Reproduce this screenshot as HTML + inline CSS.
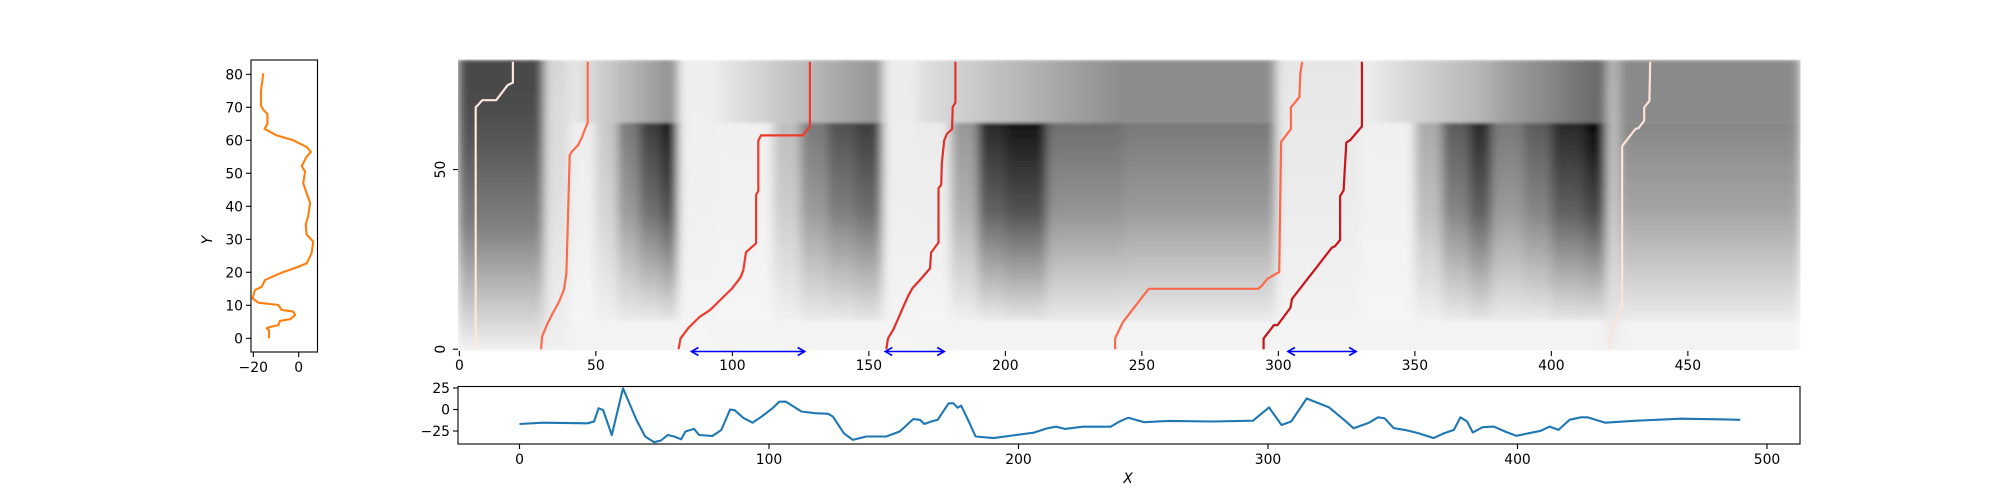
<!DOCTYPE html>
<html><head><meta charset="utf-8"><style>
html,body{margin:0;padding:0;background:#fff;}
svg{display:block;font-family:"DejaVu Sans","Liberation Sans",sans-serif;}
</style></head><body>
<svg id="fig" width="2000" height="500" viewBox="0 0 2000 500" xmlns="http://www.w3.org/2000/svg">
<defs id="defs">
<filter id="soft" x="0" y="0" width="1" height="1" filterUnits="objectBoundingBox"><feGaussianBlur stdDeviation="5 1.5" edgeMode="duplicate"/></filter>
</defs>
<g id="heat" filter="url(#soft)"></g>
<g id="paths"></g>
<g id="arrows"></g>
<g id="axes"></g>
<g id="side"></g>
<g id="bottom"></g>
</svg>
<script>
// ---------- data ----------
// heatmap regions: x0,x1,y0,y1,gray1,gray2,dir(0 vertical top->bottom, 1 horizontal left->right)
const heatRegions = [
[-0.5,31,62,80.5,72,80,0],[-0.5,31,-0.5,62,80,242,0],
[31,40,-0.5,80.5,215,240,0],
[40,80,63,80.5,235,140,1],
[40,50,8,63,238,245,0],[50,58,8,63,200,240,0],[58,66,8,63,120,235,0],[66,74,8,63,60,235,0],[74,80,8,63,20,230,0],
[80,94,-0.5,80.5,238,245,0],
[94,155,63,80.5,235,145,1],
[94,115,8,63,240,245,0],[115,125,8,63,190,240,0],[125,135,8,63,120,235,0],[135,145,8,63,80,235,0],[145,155,8,63,60,230,0],
[155,168,-0.5,80.5,235,245,0],
[168,243,63,80.5,225,140,1],
[168,180,8,63,235,245,0],[180,190,8,63,150,240,0],[190,200,8,63,40,235,0],[200,215,8,63,20,230,0],[215,243,8,63,110,235,0],
[243,299,63,80.5,140,140,0],[243,299,8,63,120,235,0],
[299,330,-0.5,80.5,230,245,0],
[330,378,63,80.5,240,175,1],
[330,350,8,63,240,245,0],[350,360,8,63,170,240,0],[360,370,8,63,90,235,0],[370,378,8,63,40,230,0],
[378,420,63,80.5,170,100,1],
[378,390,8,63,120,235,0],[390,400,8,63,90,235,0],[400,412,8,63,40,230,0],[412,420,8,63,10,230,0],
[420,425,-0.5,80.5,180,240,0],
[425,491,63,80.5,138,138,0],[425,491,8,63,135,235,0]
];
const pathColors = ["#fde6dc","#fc6c4b","#ee3a2c","#e0302a","#fb6a4a","#c8151b","#fee3d6"];
const path1X=[6,6,8.4,13.5,17.7,19.6,19.6];
const path1Y=[0,67.3,69.3,69.3,73.5,74.2,80];
const path2X=[29.9,30.3,32.2,34.1,36.4,38.3,39.2,40.4,41.1,43.4,44.8,46.2,47,47];
const path2Y=[0,3.5,7,9.9,13,16.5,21.1,54,54.9,56.7,58.8,61.6,63,80];
const path3X=[80.3,81,84,88,92,96,100,103,104,105,108,108.7,108.7,109.5,109.5,110.5,125.8,128.4,128.4];
const path3Y=[0,3,6,9,11,14,17,20,22,27,29,29.5,43,44,58,59.5,59.5,62,80];
const path4X=[156.4,157,159,161,163,164.5,166,169.3,172.4,172.8,175.5,175.5,176.5,176.7,177.6,178.6,180.5,180.7,181.7,181.7];
const path4Y=[0,3,5.5,9,12.5,15,17,19.8,22.5,26.9,29.7,44.8,45.7,51.7,58.1,59.9,61.3,67.4,68.6,80];
const path5X=[240.2,240.2,243.1,252.5,292.6,294,296,300.3,301,304.6,304.6,307.7,308,308.7];
const path5Y=[0,3,7.6,16.8,16.8,17.7,19.6,21.5,57.7,61.3,67.3,70.2,76.4,80];
const path6X=[294.6,294.6,298.4,299.7,304.4,305,310.7,313.7,319.5,320.8,322.6,322.6,323.9,324.9,326.3,330.6,330.6];
const path6Y=[0,3,6.7,6.7,11.5,14,19.6,22.5,28.2,28.7,30.4,42.6,44.2,57.5,58.2,62,80];
const path7X=[421.3,421.3,422.5,423.5,425.9,425.9,430.8,432,434,434,435.9,436.2];
const path7Y=[0,3,5,8,12,56.5,61.3,61.6,63.6,67.3,69.1,80];
const arrowStart=[85,156,303.5];
const arrowEnd=[126.5,177.6,328.5];
const heatXTicks=[0,50,100,150,200,250,300,350,400,450];
const heatYTicks=[0,50];
// side profile (orange)
const profileY=[80.3,75,70.5,69.2,68,65,63.5,61.5,60,58,56.5,55,52.2,50.5,47,44,41,37,34.5,31.5,29.3,25.8,22.7,21.5,19.7,17.7,15.6,14.6,12.1,10.8,10.1,8.6,8.1,7.1,5.8,5.3,4,3.3,3,2.5,0];
const profileX=[-15.6,-16.6,-16.6,-15.6,-13.8,-13.8,-15,-9.7,-2.4,3.5,5.4,3.5,1.3,2.8,2,3.5,5,4.2,3.1,3.5,6.4,5.7,3.5,-0.9,-8.2,-14.8,-16.3,-19.3,-20.3,-17.8,-9,-7.5,-2.4,-1.6,-3.8,-8.2,-9,-13.4,-14.1,-13.1,-13.1];
const sideXTicks=[-20,0];
const sideYTicks=[0,10,20,30,40,50,60,70,80];
// bottom signal (blue)
const sigX=[0,9.3,27.2,29.9,31.7,33.5,37,41.5,46.9,50.4,54,56.7,59.4,62,64.8,66.5,70,72,77.3,80.9,84.4,86.2,89.8,93.4,97,101.4,104.1,106.8,113,118.4,123.8,125.6,130,133.6,139,147,152.4,157.8,160.5,162.3,165,167.6,172,173.9,175.6,177,180.1,182.8,190,199,206,211.4,215,218.6,225.8,233,237,240.5,244,250.4,260.2,278,294,300.4,305.4,309.3,315.5,324.5,329.8,334.3,340.5,344.1,346.8,350.4,354.8,360.2,366.4,370,374.5,377.1,379.8,382.1,386,390.5,395,399.5,409.3,412.9,416.4,420.9,425.4,428,435.2,447.7,465.5,483.4,489.3];
const sigY=[-16.9,-15.3,-16,-14,1.4,-0.6,-29.7,24.6,-12.2,-31.4,-38,-36,-29.7,-31.4,-34.6,-25.6,-22.5,-29.7,-30.8,-23.8,0,-0.8,-10,-15.3,-8.3,1.4,9.1,9.1,-2.3,-4.3,-5,-8.3,-27.7,-35.4,-31.4,-31.4,-25.6,-11.2,-12,-16.9,-14,-12,7.2,7.2,2.1,4.5,-14,-31.4,-33.3,-29.7,-27,-22,-20,-22.6,-20,-20,-20,-14,-9.5,-14.8,-13.3,-14,-13,2.5,-18,-14,12.8,2.5,-10.3,-21.8,-15.3,-9.1,-10.3,-21.8,-23.7,-27.5,-33.3,-28.3,-23.7,-9.1,-14,-26.8,-20.6,-19.9,-25.6,-30.6,-24.8,-19.9,-23.7,-12,-9.1,-9.1,-15.3,-13,-10.7,-11.5,-12];
const botXTicks=[0,100,200,300,400,500];
const botYTicks=[25,0,-25];

// ---------- scales ----------
const hx=d=>458+(d+0.5)*2.730, hy=d=>351-(d+0.5)*3.593;
const bx=d=>519.5+d*2.495, by=v=>409.5-v*0.86;
const lx=v=>298.7+v*2.27, ly=v=>338.3-v*3.3;
const NS="http://www.w3.org/2000/svg";
function mk(tag,attrs,parent){const e=document.createElementNS(NS,tag);for(const k in attrs)e.setAttribute(k,attrs[k]);parent.appendChild(e);return e;}
const g=v=>`rgb(${Math.round(v)},${Math.round(v)},${Math.round(v)})`;
const defs=document.getElementById('defs');

// ---------- heatmap ----------
const heat=document.getElementById('heat');
const bg=mk('rect',{x:hx(-0.5),y:hy(80.5),width:hx(491)-hx(-0.5),height:hy(-0.5)-hy(80.5),fill:'#f3f3f3'},heat);


heatRegions.forEach((r,i)=>{
  const [x0,x1,y0,y1,c1,c2,dir]=r;
  const lg=mk('linearGradient',{id:'hg'+i,x1:0,y1:0,x2:dir?1:0,y2:dir?0:1},defs);
  mk('stop',{offset:0,'stop-color':g(c1)},lg);
  if(!dir) mk('stop',{offset:0.45,'stop-color':g(c1+(c2-c1)*0.3)},lg);
  mk('stop',{offset:1,'stop-color':g(c2)},lg);
  const re=mk('rect',{x:hx(x0),y:hy(y1),width:hx(x1)-hx(x0)+0.4,height:hy(y0)-hy(y1),fill:`url(#hg${i})`},heat);
  
  
});
const pathsG=document.getElementById('paths');
[[path1X,path1Y],[path2X,path2Y],[path3X,path3Y],[path4X,path4Y],[path5X,path5Y],[path6X,path6Y],[path7X,path7Y]].forEach((p,i)=>{
  const d=p[0].map((x,j)=>(j?'L':'M')+hx(x).toFixed(1)+','+hy(p[1][j]).toFixed(1)).join(' ');
  const pe=mk('path',{d,fill:'none',stroke:pathColors[i],'stroke-width':2.2,'stroke-linejoin':'round'},pathsG);
  
  
});
const arrG=document.getElementById('arrows');
arrowStart.forEach((s,i)=>{
  const a=hx(s),b=hx(arrowEnd[i]),y=351.5;
  const ag=mk('g',{stroke:'#0000ff','stroke-width':1.6,fill:'none'},arrG);
  
  
  mk('line',{x1:a,y1:y,x2:b,y2:y},ag);
  mk('path',{d:`M${a+7},${y-4} L${a},${y} L${a+7},${y+4}`},ag);
  mk('path',{d:`M${b-7},${y-4} L${b},${y} L${b-7},${y+4}`},ag);
});

// ---------- axes helpers ----------
const axes=document.getElementById('axes');
function text(str,x,y,anchor,parent,name,extra){
  const t=mk('text',Object.assign({x,y,'text-anchor':anchor,'font-size':13.9,fill:'#000'},extra||{}),parent);
  t.textContent=str;
  
  
  return t;
}
const fmt=v=>v<0?'\u2212'+Math.abs(v):String(v);
heatXTicks.forEach(t=>{
  const x=hx(t);
  mk('line',{x1:x,y1:351,x2:x,y2:356,stroke:'#000','stroke-width':1.1},axes);
  text(fmt(t),x,370,'middle',axes,'heatmap-x-tick-label');
});
heatYTicks.forEach(t=>{
  const y=hy(t);
  mk('line',{x1:453,y1:y,x2:458,y2:y,stroke:'#000','stroke-width':1.1},axes);
  text(fmt(t),0,0,'middle',axes,'heatmap-y-tick-label',{transform:`translate(445,${y}) rotate(-90)`});
});

// ---------- side profile ----------
const side=document.getElementById('side');
const sp=profileX.map((x,j)=>(j?'L':'M')+lx(x).toFixed(1)+','+ly(profileY[j]).toFixed(1)).join(' ');
const spe=mk('path',{d:sp,fill:'none',stroke:'#ff7f0e','stroke-width':2.1,'stroke-linejoin':'round'},side);


mk('rect',{x:251,y:60,width:66.5,height:292,fill:'none',stroke:'#000','stroke-width':1.1},side);
sideXTicks.forEach(t=>{const x=lx(t);mk('line',{x1:x,y1:352,x2:x,y2:357,stroke:'#000','stroke-width':1.1},side);text(fmt(t),x,372,'middle',side,'side-x-tick-label');});
sideYTicks.forEach(t=>{const y=ly(t);mk('line',{x1:246,y1:y,x2:251,y2:y,stroke:'#000','stroke-width':1.1},side);text(fmt(t),243,y+5,'end',side,'side-y-tick-label');});
text('Y',0,0,'middle',side,'y-axis-title',{transform:'translate(212,240) rotate(-90)','font-style':'italic'});

// ---------- bottom signal ----------
const bot=document.getElementById('bottom');
const bp=sigX.map((x,j)=>(j?'L':'M')+bx(x).toFixed(1)+','+by(sigY[j]).toFixed(1)).join(' ');
const bpe=mk('path',{d:bp,fill:'none',stroke:'#1f77b4','stroke-width':2.1,'stroke-linejoin':'round'},bot);


mk('rect',{x:458,y:386.5,width:1342,height:57.5,fill:'none',stroke:'#000','stroke-width':1.1},bot);
botXTicks.forEach(t=>{const x=bx(t);mk('line',{x1:x,y1:444,x2:x,y2:449,stroke:'#000','stroke-width':1.1},bot);text(fmt(t),x,464,'middle',bot,'bottom-x-tick-label');});
botYTicks.forEach(t=>{const y=by(t);mk('line',{x1:453,y1:y,x2:458,y2:y,stroke:'#000','stroke-width':1.1},bot);text(fmt(t),450,y+5,'end',bot,'bottom-y-tick-label');});
text('X',1128,483,'middle',bot,'x-axis-title',{'font-style':'italic'});
</script>
</body></html>
